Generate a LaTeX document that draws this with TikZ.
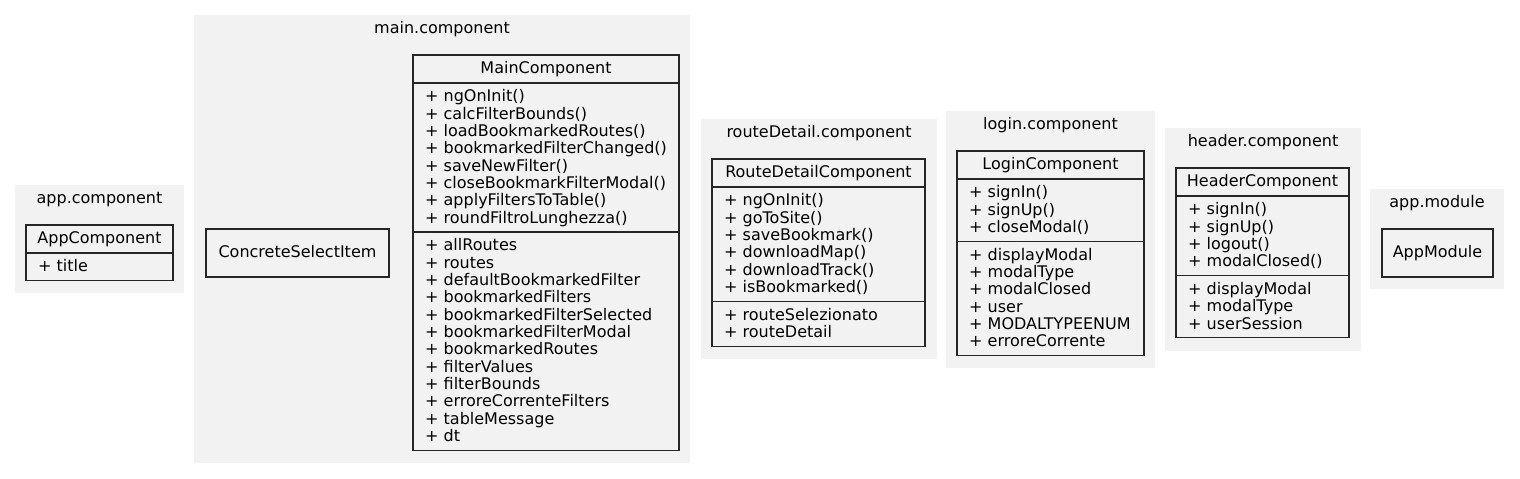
\documentclass[tikz,border=0pt]{standalone}
\usepackage{fontspec}
\setmainfont{DejaVu Sans}
\tikzset{
  cluster/.style={fill=gray!10, draw=none},
  txt/.style={inner sep=0pt, text=black, font=\fontsize{16}{17.35}\selectfont},
  clustertitle/.style={txt, anchor=base},
  classname/.style={txt, anchor=base},
  member/.style={txt, anchor=base west},
  classbox/.style={draw=black!85, line width=1.2pt},
  classsep/.style={draw=black!85, line width=1.2pt},
}
% #1 name, #2 left, #3 right, #4 top, #5 bottom, #6 title
\newcommand{\umlcluster}[6]{%
  \path[cluster] (#2,#4) rectangle (#3,#5);
  \pgfmathsetmacro\ucx{(#2+#3)/2}
  \node[clustertitle] (#1) at (\ucx,{#4+18}) {#6};
}
% #1 name #2 left #3 right #4 top #5 title #6 nb methods #7 methods #8 nb attrs #9 attrs
\newcommand{\umlclass}[9]{%
  \pgfmathsetmacro\ucx{(#2+#3)/2}
  \pgfmathsetmacro\usa{#4+28}
  \ifnum#6>0 \pgfmathsetmacro\usb{\usa+10.2+#6*17.35}\else\let\usb\usa\fi
  \pgfmathsetmacro\ubt{\usb+10.2+#8*17.35}
  \node[classname] (#1) at (\ucx,{#4+18.5}) {#5};
  \ifnum#6>0
    \foreach \t [count=\i] in {#7} {\node[member] (#1-m\i) at ({#2+12},{\usa+18.8+(\i-1)*17.35}) {+ \t};}
    \draw[classsep] (#2,\usb) -- (#3,\usb);
  \fi
  \foreach \t [count=\i] in {#9} {\node[member] (#1-a\i) at ({#2+12},{\usb+18.8+(\i-1)*17.35}) {+ \t};}
  \draw[classsep] (#2,\usa) -- (#3,\usa);
  \draw[classbox] (#2,#4) rectangle (#3,\ubt);
}
% #1 name #2 left #3 right #4 top #5 bottom #6 text
\newcommand{\umlsimple}[6]{%
  \pgfmathsetmacro\ucx{(#2+#3)/2}
  \node[classname] (#1) at (\ucx,{#5-20}) {#6};
  \draw[classbox] (#2,#4) rectangle (#3,#5);
}
\begin{document}
\begin{tikzpicture}[x=1pt,y=-1pt]
\useasboundingbox (0,0) rectangle (1520,479);
% clusters
\umlcluster{appcomp}{15}{184}{185}{293}{app.component}
\umlcluster{maincomp}{194}{690}{15}{463}{main.component}
\umlcluster{rdcomp}{701}{937}{119}{359}{routeDetail.component}
\umlcluster{logincomp}{946}{1155}{111}{368}{login.component}
\umlcluster{headercomp}{1165}{1361}{128}{351}{header.component}
\umlcluster{appmod}{1370}{1504}{189}{289}{app.module}
% classes
\umlclass{AppComponent}{26}{173}{225}{AppComponent}{0}{}{1}{title}
\umlsimple{ConcreteSelectItem}{206}{389}{229}{277}{ConcreteSelectItem}
\umlclass{MainComponent}{413}{679}{55}{MainComponent}{8}{ngOnInit(),calcFilterBounds(),loadBookmarkedRoutes(),bookmarkedFilterChanged(),saveNewFilter(),closeBookmarkFilterModal(),applyFiltersToTable(),roundFiltroLunghezza()}{12}{allRoutes,routes,defaultBookmarkedFilter,bookmarkedFilters,bookmarkedFilterSelected,bookmarkedFilterModal,bookmarkedRoutes,filterValues,filterBounds,erroreCorrenteFilters,tableMessage,dt}
\umlclass{RouteDetailComponent}{712}{925}{159}{RouteDetailComponent}{6}{ngOnInit(),goToSite(),saveBookmark(),downloadMap(),downloadTrack(),isBookmarked()}{2}{routeSelezionato,routeDetail}
\umlclass{LoginComponent}{957}{1144}{151}{LoginComponent}{3}{signIn(),signUp(),closeModal()}{6}{displayModal,modalType,modalClosed,user,MODALTYPEENUM,erroreCorrente}
\umlclass{HeaderComponent}{1176}{1349}{168}{HeaderComponent}{4}{signIn(),signUp(),logout(),modalClosed()}{3}{displayModal,modalType,userSession}
\umlsimple{AppModule}{1382}{1493}{229}{277}{AppModule}
\end{tikzpicture}
\end{document}
